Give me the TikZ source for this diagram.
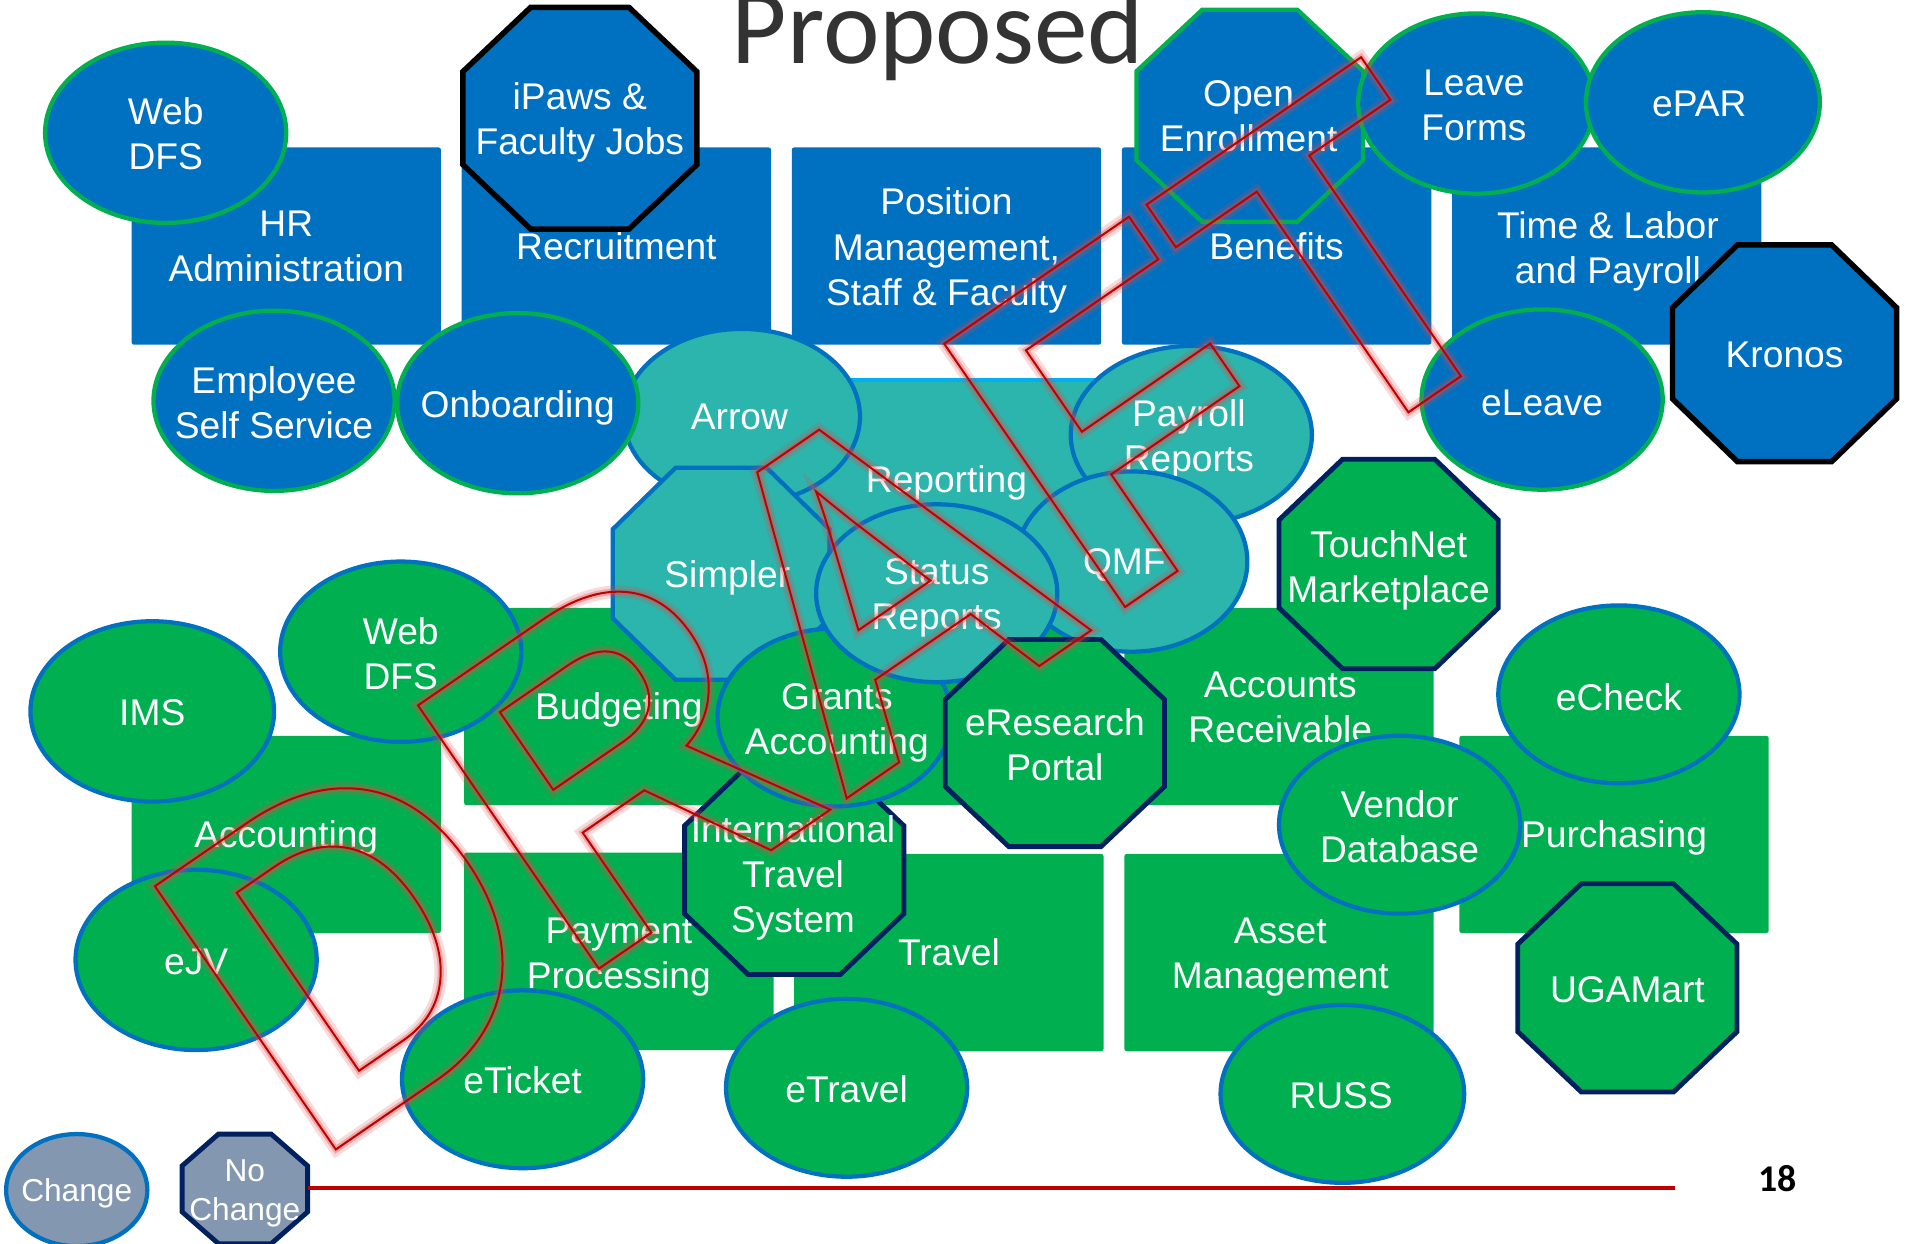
\documentclass[tikz,border=0pt]{standalone}
\usepackage{fontspec}
\setmainfont{Liberation Sans}
\newfontfamily\titlefont{Carlito}
\usetikzlibrary{shapes.geometric}
\definecolor{cblue}{HTML}{0070C0}
\definecolor{cgreen}{HTML}{00B050}
\definecolor{cteal}{HTML}{2BB5AC}
\definecolor{cnavy}{HTML}{002060}
\definecolor{ccyan}{HTML}{00B0F0}
\definecolor{cgray}{HTML}{8497B0}
\definecolor{ctitle}{HTML}{333333}
\definecolor{cred}{HTML}{C00000}
\definecolor{cglow}{HTML}{E04848}
\newcommand\lbfont{\fontsize{30.5}{37}\selectfont}
\newcommand\legfont{\fontsize{26}{32}\selectfont}
\newcommand\draftfont{\bfseries\fontsize{363}{400}\selectfont}
% outlined text (stroke only) through xdvipdfmx
\newcommand\outlinetext[2]{\special{pdf:literal direct #1 w 0 j 1 Tr}#2\special{pdf:literal direct 0 Tr}}
% octagon: style, cx, cy, half width, half height
\newcommand\octpath[5]{%
  \draw[#1] ({#2-#4},{#3-0.42*#5}) -- ({#2-0.42*#4},{#3-#5}) -- ({#2+0.42*#4},{#3-#5}) -- ({#2+#4},{#3-0.42*#5}) -- ({#2+#4},{#3+0.42*#5}) -- ({#2+0.42*#4},{#3+#5}) -- ({#2-0.42*#4},{#3+#5}) -- ({#2-#4},{#3+0.42*#5}) -- cycle;}
% ellipse: style, name, cx, cy, width, height
\newcommand\ellnode[6]{%
  \node[ell,#1,minimum width=#5,minimum height=#6] (#2) at (#3,#4) {};}
\tikzset{
  capcenter/.style={execute at begin node={\rule{0pt}{30pt}}, execute at end node={\rule[-8.2pt]{0pt}{8.2pt}}},
  legcenter/.style={execute at begin node={\rule{0pt}{27pt}}, execute at end node={\rule[-8.4pt]{0pt}{8.4pt}}},
  box/.style={rectangle, rounded corners=2pt, minimum width=254, minimum height=162, inner sep=0pt, outer sep=0pt, text=white, font=\lbfont, align=center, capcenter},
  ell/.style={ellipse, inner sep=0pt, outer sep=0pt, line width=3.5pt},
  lbl/.style={text=white, font=\lbfont, align=center, inner sep=0pt, capcenter},
  ml/.style={yshift=-4.5pt},
  leg/.style={text=white, font=\legfont, align=center, inner sep=0pt, legcenter},
  bluegreen/.style={fill=cblue, draw=cgreen},
  tealblue/.style={fill=cteal, draw=cblue},
  greenblue/.style={fill=cgreen, draw=cblue},
  octblack/.style={fill=cblue, draw=black, line width=4.5pt},
  octnavy/.style={fill=cgreen, draw=cnavy, line width=4pt},
  draftnode/.style={rotate=34.5, yscale=1.05, anchor=base west, inner sep=0pt, font=\draftfont},
}
\begin{document}
\begin{tikzpicture}[x=1pt,y=-1pt]
\useasboundingbox (0,0) rectangle (1568,1021);
\fill[white] (0,0) rectangle (1568,1021);

% ---- top blue rectangles
\node[box,fill=cblue] (hradm) at (235,202) {};
\node[lbl,ml] (hradmT) at (hradm) {HR\\Administration};
\node[box,fill=cblue] (recruit) at (506,202) {Recruitment};
\node[box,fill=cblue] (posmgmt) at (777,202) {};
\node[lbl,ml] (posmgmtT) at (posmgmt) {Position\\Management,\\Staff \& Faculty};
\node[box,fill=cblue] (benefits) at (1048,202) {Benefits};
\node[box,fill=cblue] (timelabor) at (1319,202) {};
\node[lbl,ml] (timelaborT) at (1320,203) {Time \& Labor\\and Payroll};

% ---- top shapes
\ellnode{bluegreen}{webdfsA}{136}{109}{198}{148}
\node[lbl,ml] (webdfsAT) at (136,109) {Web\\DFS};
\octpath{octblack}{476}{97}{96}{91}
\node[lbl,ml] (ipaws) at (476,97) {iPaws \&\\Faculty Jobs};
\octpath{fill=cblue,draw=cgreen,line width=3.5pt}{1026}{95}{93}{87}
\node[lbl,ml] (openenr) at (1025,95) {Open\\Enrollment};
\ellnode{bluegreen}{leave}{1212}{85}{194}{148}
\node[lbl,ml] (leaveT) at (1210,86) {Leave\\Forms};
\ellnode{bluegreen}{epar}{1398}{84}{192}{148}
\node[lbl] (eparT) at (1395,85) {ePAR};
\ellnode{bluegreen}{eleave}{1266}{328}{198}{148}
\node[lbl] (eleaveT) at (1266,330) {eLeave};
\octpath{octblack}{1465}{290}{92}{89}
\node[lbl] (kronos) at (1465,291) {Kronos};

% ---- green rectangles
\node[box,fill=cgreen] (accounting) at (235,685) {Accounting};
\node[box,fill=cgreen] (budgeting) at (508,580) {Budgeting};
\node[box,fill=cgreen] (midgreen) at (777,580) {};
\node[box,fill=cgreen] (acctrec) at (1050,580) {};
\node[lbl,ml] (acctrecT) at (1051,580) {Accounts\\Receivable};
\node[box,fill=cgreen] (payproc) at (508,781) {};
\node[lbl,ml] (payprocT) at (508,782) {Payment\\Processing};
\node[box,fill=cgreen] (travel) at (779,782) {Travel};
\node[box,fill=cgreen] (asset) at (1050,782) {};
\node[lbl,ml] (assetT) at (1051,782) {Asset\\Management};
\node[box,fill=cgreen] (purchasing) at (1325,685) {Purchasing};

% ---- reporting cluster
\node[box,fill=cteal] (reporting) at (777,393) {Reporting};
\draw[ccyan,line width=4pt] (reporting.north west) -- (reporting.north east);
\ellnode{tealblue}{arrow}{609}{342}{194}{144}
\node[lbl] (arrowT) at (607,342) {Arrow};
\ellnode{tealblue}{payroll}{978}{357}{198}{146}
\node[lbl,ml] (payrollT) at (976,357) {Payroll\\Reports};
\ellnode{tealblue}{qmf}{929}{461}{190}{148}
\node[lbl] (qmfT) at (923,461) {QMF};
\octpath{fill=cteal,draw=cblue,line width=3.5pt}{592}{471}{89}{87}
\node[lbl] (simpler) at (597,471) {Simpler};

% ---- HR circles
\ellnode{bluegreen}{empss}{225}{329}{198}{148}
\node[lbl,ml] (empssT) at (225,330) {Employee\\Self Service};
\ellnode{bluegreen}{onboard}{425}{331}{198}{148}
\node[lbl] (onboardT) at (425,332) {Onboarding};

% ---- middle
\octpath{octnavy}{652}{714}{90}{86}
\node[lbl,ml] (its) at (651,717) {International\\Travel\\System};
\ellnode{greenblue}{grants}{685}{589}{192}{146}
\node[lbl,ml] (grantsT) at (687,590) {Grants\\Accounting};
\ellnode{tealblue}{status}{769}{487}{198}{146}
\node[lbl,ml] (statusT) at (769,487) {Status\\Reports};
\octpath{octnavy}{866}{610}{90}{85}
\node[lbl,ml] (eresearch) at (866,611) {eResearch\\Portal};
\octpath{octnavy}{1140}{463}{90}{86}
\node[lbl,ml] (touchnet) at (1140,465) {TouchNet\\Marketplace};

% ---- green circles
\ellnode{greenblue}{ims}{125}{584}{200}{148}
\node[lbl] (imsT) at (125,585) {IMS};
\ellnode{greenblue}{webdfsB}{329}{535}{198}{148}
\node[lbl,ml] (webdfsBT) at (329,536) {Web\\DFS};
\ellnode{greenblue}{ejv}{161}{788}{198}{148}
\node[lbl] (ejvT) at (161,789) {eJV};
\ellnode{greenblue}{eticket}{429}{886}{198}{146}
\node[lbl] (eticketT) at (429,887) {eTicket};
\ellnode{greenblue}{etravel}{695}{893}{198}{146}
\node[lbl] (etravelT) at (695,894) {eTravel};
\ellnode{greenblue}{russ}{1102}{898}{200}{146}
\node[lbl] (russT) at (1101,899) {RUSS};
\ellnode{greenblue}{vendor}{1149}{677}{198}{146}
\node[lbl,ml] (vendorT) at (1149,678) {Vendor\\Database};
\ellnode{greenblue}{echeck}{1329}{570}{198}{146}
\node[lbl] (echeckT) at (1329,572) {eCheck};
\octpath{octnavy}{1336}{811}{90}{85.5}
\node[lbl] (ugamart) at (1336,812) {UGAMart};

% ---- legend
\ellnode{fill=cgray,draw=cblue}{change}{63}{977}{116}{92}
\node[leg] (changeT) at (63,977) {Change};
\octpath{fill=cgray,draw=cnavy,line width=4pt}{201}{976}{51.5}{45}
\node[leg,yshift=-4pt] (nochange) at (201,977) {No\\Change};
\coordinate (lineA) at (253,975);
\coordinate (lineB) at (1375,975);
\draw[cred,line width=3pt] (lineA) -- (lineB);
\node[anchor=base,inner sep=0pt,text=black] (pageno) at (1459,978) {\titlefont\bfseries\fontsize{31}{36}\selectfont 18};

% ---- title
\node[anchor=base,inner sep=0pt,text=ctitle] (title) at (770,52) {\titlefont\fontsize{88}{100}\selectfont Proposed};

% ---- DRAFT watermark (outlined letters with a soft red glow)
\begin{scope}[opacity=0.2]
\node[draftnode,text=cglow] (draftglowA) at (255.5,957.5) {\outlinetext{10}{DRAFT}};
\end{scope}
\begin{scope}[opacity=0.35]
\node[draftnode,text=cglow] (draftglowB) at (255.5,957.5) {\outlinetext{5}{DRAFT}};
\end{scope}
\node[draftnode,text=cred] (draft) at (255.5,957.5) {\outlinetext{1.6}{DRAFT}};
\end{tikzpicture}
\end{document}
